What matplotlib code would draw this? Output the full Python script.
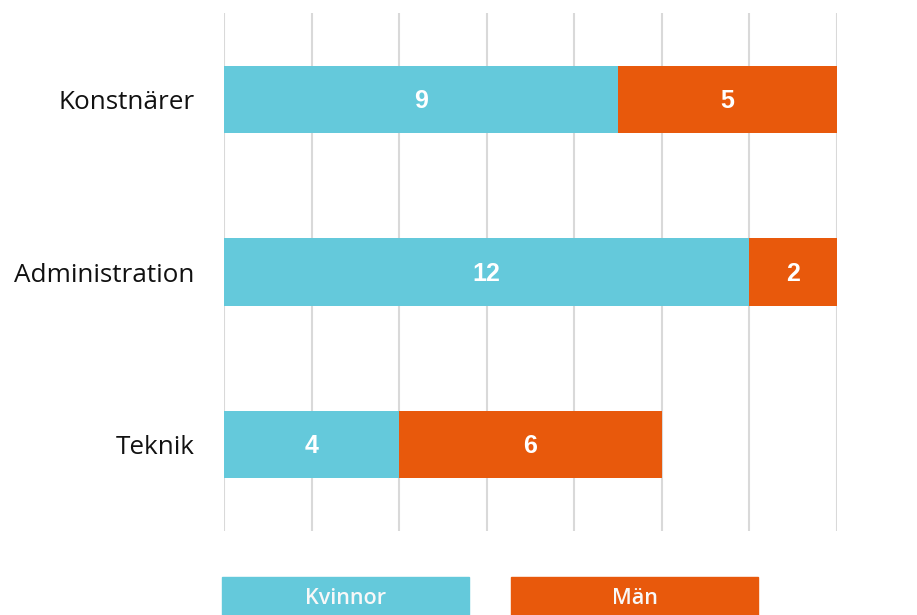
import os
import numpy as np
import matplotlib.pyplot as plt
from matplotlib.patches import Rectangle
from matplotlib import font_manager

# data
categories = ["Konstnärer", "Administration", "Teknik"]
kvinnor = [9, 12, 4]
man = [5, 2, 6]
series_names = ["Kvinnor", "Män"]

teal = "#64c9db"
orange = "#e8590c"

# Arial-like bold for the numbers in the bars
bold_file = "/usr/share/fonts/truetype/liberation/LiberationSans-Bold.ttf"
if os.path.exists(bold_file):
    val_font = font_manager.FontProperties(fname=bold_file, size=18)
else:
    val_font = font_manager.FontProperties(family="Roboto", weight="bold", size=18)

fig = plt.figure(figsize=(9.17, 6.15), dpi=100)
ax = fig.add_axes([224 / 917, 1 - 531 / 615, 613 / 917, 518 / 615])

y = np.arange(len(categories))
ax.barh(y, kvinnor, height=0.39, color=teal, zorder=3)
ax.barh(y, man, left=kvinnor, height=0.39, color=orange, zorder=3)

# value labels inside the bars
for i in range(len(categories)):
    ax.text(kvinnor[i] / 2, y[i] + 0.01, str(kvinnor[i]), ha="center", va="center",
            color="white", fontproperties=val_font, zorder=4)
    ax.text(kvinnor[i] + man[i] / 2, y[i] + 0.01, str(man[i]), ha="center", va="center",
            color="white", fontproperties=val_font, zorder=4)

ax.set_xlim(0, 14)
ax.set_ylim(2.5, -0.5)
ax.set_xticks(np.arange(0, 15, 2))
ax.grid(axis="x", color="#d9d9d9", linewidth=1.5, zorder=0)
ax.tick_params(axis="x", length=0, labelbottom=False)
ax.tick_params(axis="y", length=0, pad=21)
ax.set_yticks(y)
ax.set_yticklabels(categories, fontsize=18.8, family="Open Sans", color="#111111")
for s in ax.spines.values():
    s.set_visible(False)

# legend boxes at the bottom
leg_x = [222, 511]
leg_colors = [teal, orange]
for x0, c, name in zip(leg_x, leg_colors, series_names):
    fig.patches.append(Rectangle((x0 / 917, 0), 247 / 917, 38 / 615, transform=fig.transFigure,
                                 color=c, zorder=1))
    fig.text((x0 + 123.5) / 917, 17 / 615, name, ha="center", va="center", color="#f8f8f8",
             fontsize=15.5, family="Open Sans", fontweight="semibold")

fig.savefig("out.png", dpi=100)
